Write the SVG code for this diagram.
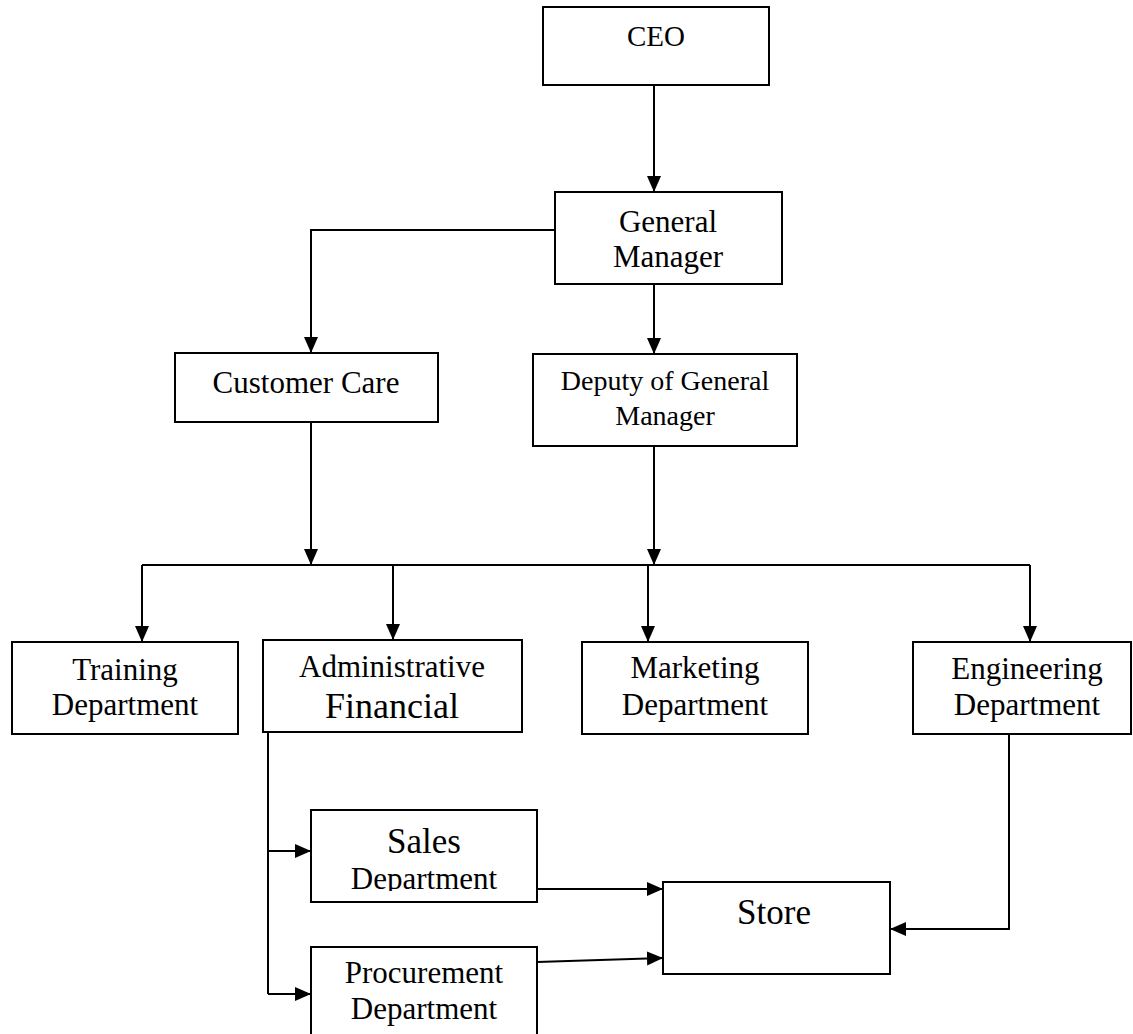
<svg xmlns="http://www.w3.org/2000/svg" width="1133" height="1034" viewBox="0 0 1133 1034">
<style>
.box{fill:#fff;stroke:#000;stroke-width:2}
.t{font-family:"Liberation Serif","Times New Roman",serif;font-size:31px;fill:#000;text-anchor:middle}
.c{fill:none;stroke:#000;stroke-width:2}
</style>
<defs>
<marker id="ah" markerUnits="userSpaceOnUse" markerWidth="17" markerHeight="15" refX="16" refY="7" orient="auto">
<path d="M0,0 L16,7 L0,14 z" fill="#000"/>
</marker>
<clipPath id="salesClip"><rect x="311" y="810" width="226" height="81"/></clipPath>
</defs>
<rect width="1133" height="1034" fill="#fff"/>
<g id="connectors">
<path class="c" d="M654,85 V192" marker-end="url(#ah)"/>
<path class="c" d="M555,230 H311 V353" marker-end="url(#ah)"/>
<path class="c" d="M654,284 V354" marker-end="url(#ah)"/>
<path class="c" d="M311,422 V565" marker-end="url(#ah)"/>
<path class="c" d="M654,446 V565" marker-end="url(#ah)"/>
<path class="c" d="M142,565 H1030"/>
<path class="c" d="M142,565 V642" marker-end="url(#ah)"/>
<path class="c" d="M393,565 V640" marker-end="url(#ah)"/>
<path class="c" d="M648,565 V642" marker-end="url(#ah)"/>
<path class="c" d="M1030,565 V642" marker-end="url(#ah)"/>
<path class="c" d="M268,732 V994"/>
<path class="c" d="M268,851 H311" marker-end="url(#ah)"/>
<path class="c" d="M268,994 H311" marker-end="url(#ah)"/>
<path class="c" d="M537,889 H663" marker-end="url(#ah)"/>
<path class="c" d="M537,962 L663,958" marker-end="url(#ah)"/>
<path class="c" d="M1009,734 V929 H890" marker-end="url(#ah)"/>
</g>
<g id="ceo">
<rect class="box" x="543" y="7" width="226" height="78"/>
<text class="t" x="656" y="46" style="font-size:29px">CEO</text>
</g>
<g id="general-manager">
<rect class="box" x="555" y="192" width="227" height="92"/>
<text class="t" x="668" y="232">General</text>
<text class="t" x="668" y="267">Manager</text>
</g>
<g id="customer-care">
<rect class="box" x="175" y="353" width="263" height="69"/>
<text class="t" x="306" y="393">Customer Care</text>
</g>
<g id="deputy">
<rect class="box" x="533" y="354" width="264" height="92"/>
<text class="t" x="665" y="390" style="font-size:28px">Deputy of General</text>
<text class="t" x="665" y="425" style="font-size:28px">Manager</text>
</g>
<g id="training">
<rect class="box" x="12" y="642" width="226" height="92"/>
<text class="t" x="125" y="680">Training</text>
<text class="t" x="125" y="715">Department</text>
</g>
<g id="admin-financial">
<rect class="box" x="263" y="640" width="259" height="92"/>
<text class="t" x="392" y="677">Administrative</text>
<text class="t" x="392" y="718" style="font-size:36px">Financial</text>
</g>
<g id="marketing">
<rect class="box" x="582" y="642" width="226" height="92"/>
<text class="t" x="695" y="678">Marketing</text>
<text class="t" x="695" y="715">Department</text>
</g>
<g id="engineering">
<rect class="box" x="913" y="642" width="218" height="92"/>
<text class="t" x="1027" y="679">Engineering</text>
<text class="t" x="1027" y="715">Department</text>
</g>
<g id="sales">
<rect class="box" x="311" y="810" width="226" height="92"/>
<g clip-path="url(#salesClip)">
<text class="t" x="424" y="853" style="font-size:35px">Sales</text>
<text class="t" x="424" y="889">Department</text>
</g>
</g>
<g id="procurement">
<rect class="box" x="311" y="947" width="226" height="95"/>
<text class="t" x="424" y="983">Procurement</text>
<text class="t" x="424" y="1019">Department</text>
</g>
<g id="store">
<rect class="box" x="663" y="882" width="227" height="92"/>
<text class="t" x="774" y="924" style="font-size:35px">Store</text>
</g>
</svg>
